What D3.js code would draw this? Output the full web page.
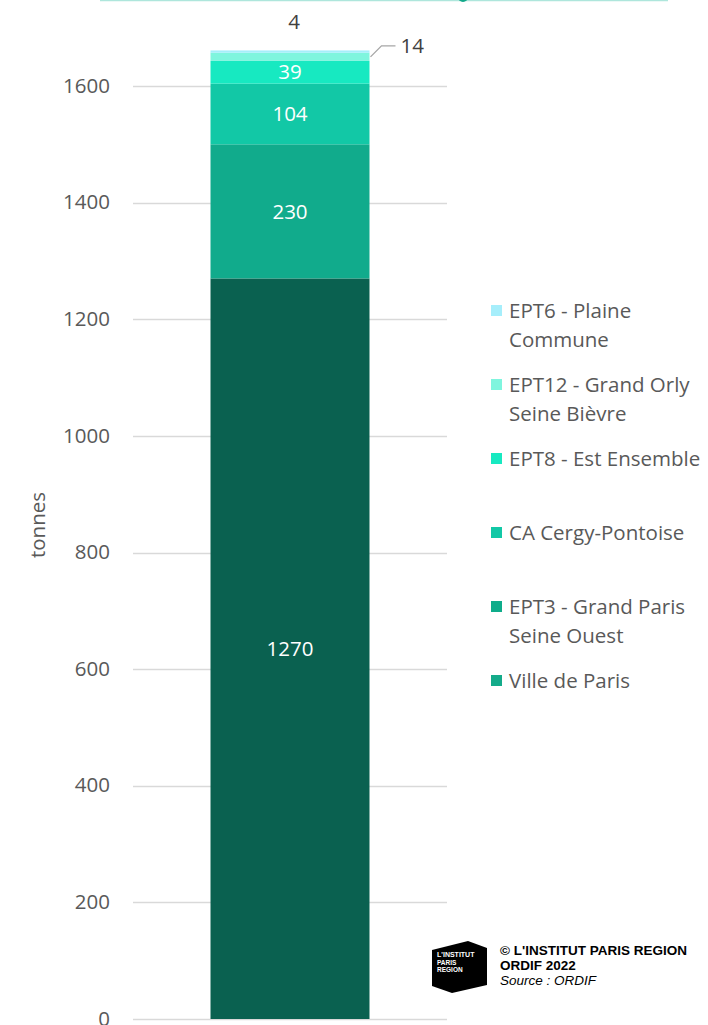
<!DOCTYPE html>
<html><head><meta charset="utf-8">
<script src="https://cdn.jsdelivr.net/npm/d3@7/dist/d3.min.js"></script>
<style>body{margin:0;background:#fff}svg{display:block}</style>
</head><body>
<script>
const categories = ["Total"];
const seriesNames = ["Ville de Paris","EPT3 - Grand Paris Seine Ouest","CA Cergy-Pontoise","EPT8 - Est Ensemble","EPT12 - Grand Orly Seine Bièvre","EPT6 - Plaine Commune"];
const seriesValues = [1270, 230, 104, 39, 14, 4];
const barColors = ["#0a6150","#11ab8c","#12c8a6","#17e9c1","#7ff5de","#a6eefb"];
const legendColors = ["#14ab8a","#0fac8a","#12c8a6","#17e9c1","#7ff5de","#a6eefb"];
const legendLines = [["Ville de Paris"],["EPT3 - Grand Paris","Seine Ouest"],["CA Cergy-Pontoise"],["EPT8 - Est Ensemble"],["EPT12 - Grand Orly","Seine Bièvre"],["EPT6 - Plaine","Commune"]];
const yTicks = [0,200,400,600,800,1000,1200,1400,1600];

const W=708,H=1025;
const svg=d3.select("body").append("svg").attr("width",W).attr("height",H);
const font="'Open Sans', sans-serif";
const FS=20.5;

// cropped element from above
svg.append("line").attr("x1",100).attr("x2",668).attr("y1",0.5).attr("y2",0.5).attr("stroke","#aee6dc").attr("stroke-width",1.5);
svg.append("circle").attr("cx",463).attr("cy",-3).attr("r",5).attr("fill","#12a88a");

const y=d3.scaleLinear().domain([0,1600]).range([1019,86]);
const x=d3.scaleBand().domain(categories).range([133,447]).paddingInner(0).paddingOuter(0.4875);

const g=svg.append("g");
g.selectAll("line.grid").data(yTicks).join("line")
 .attr("x1",133).attr("x2",447).attr("y1",d=>Math.round(y(d))+0.5).attr("y2",d=>Math.round(y(d))+0.5)
 .attr("stroke","#d9d9d9").attr("stroke-width",1.5);

const axis=d3.axisLeft(y).tickValues(yTicks).tickSize(0).tickPadding(0).tickFormat(d3.format("d"));
const ax=svg.append("g").attr("transform","translate(110,0)").call(axis);
ax.select(".domain").remove();
ax.selectAll("text").attr("font-family",font).attr("font-size",FS).attr("fill","#595959").attr("dy","0.3em");

svg.append("text").attr("transform","translate(45,525) rotate(-90)").attr("text-anchor","middle")
 .attr("font-family",font).attr("font-size",FS).attr("fill","#595959").text("tonnes");

// stacked
let cum=0;
const stacked=seriesValues.map((v,i)=>{const s={v,i,y0:cum,y1:cum+v};cum+=v;return s;});
const bx=x("Total"), bw=x.bandwidth();
g.selectAll("rect.seg").data(stacked).join("rect")
 .attr("x",bx).attr("width",bw).attr("y",d=>y(d.y1)).attr("height",d=>y(d.y0)-y(d.y1)).attr("fill",d=>barColors[d.i]);

// labels
stacked.forEach(d=>{
  if(d.i<4){
    svg.append("text").attr("x",bx+bw/2).attr("y",(y(d.y0)+y(d.y1))/2).attr("dy","0.35em")
     .attr("text-anchor","middle").attr("font-family",font).attr("font-size",FS).attr("fill","#fff").text(d.v);
  }
});
const d14=stacked[4], d4=stacked[5];
const ym14=(y(d14.y0)+y(d14.y1))/2;
svg.append("polyline").attr("points",`${bx+bw+1},${ym14} ${bx+bw+12},${ym14-11} ${bx+bw+26},${ym14-11}`)
 .attr("fill","none").attr("stroke","#a6a6a6").attr("stroke-width",1.3);
svg.append("text").attr("x",bx+bw+31).attr("y",ym14-11).attr("dy","0.35em").attr("font-family",font).attr("font-size",FS).attr("fill","#404040").text(d14.v);
svg.append("text").attr("x",bx+bw/2+4).attr("y",y(d4.y1)-29).attr("dy","0.35em").attr("text-anchor","middle").attr("font-family",font).attr("font-size",FS).attr("fill","#404040").text(d4.v);

// legend (top to bottom reversed)
const legOrder=[5,4,3,2,1,0];
legOrder.forEach((si,k)=>{
  const cy=311+k*74;
  svg.append("rect").attr("x",491).attr("y",cy-6).attr("width",11).attr("height",11).attr("fill",legendColors[si]);
  legendLines[si].forEach((ln,j)=>{
    svg.append("text").attr("x",509).attr("y",cy+j*29).attr("dy","0.35em").attr("font-family",font).attr("font-size",FS).attr("fill","#595959").text(ln);
  });
});

// logo
const lg=svg.append("g");
lg.append("path").attr("d","M432,950 L468,941 L487,948 L487,985 L452,993 L432,986 Z").attr("fill","#000");
[["L'INSTITUT",957],["PARIS",965],["REGION",972]].forEach(([t,yy],i)=>{
  lg.append("text").attr("x",437).attr("y",yy).attr("font-family","'Liberation Sans',Arial").attr("font-size",i==0?7:6.5).attr("font-weight","bold").attr("fill","#fff").text(t);
});
svg.append("text").attr("x",500).attr("y",955).attr("font-family","'Liberation Sans',Arial").attr("font-size",13.5).attr("font-weight","bold").attr("fill","#000").text("© L'INSTITUT PARIS REGION");
svg.append("text").attr("x",500).attr("y",970).attr("font-family","'Liberation Sans',Arial").attr("font-size",13.5).attr("font-weight","bold").attr("fill","#000").text("ORDIF 2022");
svg.append("text").attr("x",500).attr("y",985).attr("font-family","'Liberation Sans',Arial").attr("font-size",13.5).attr("font-style","italic").attr("fill","#000").text("Source : ORDIF");
</script>
</body></html>
